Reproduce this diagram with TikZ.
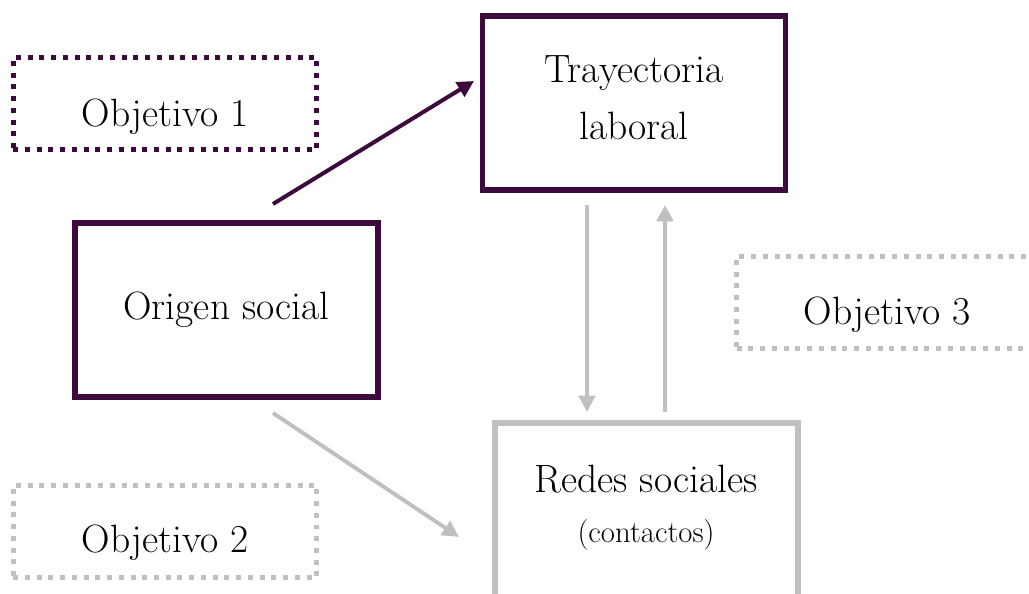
\documentclass[tikz,border=0pt]{standalone}
\usepackage{tikz}
\usetikzlibrary{arrows.meta}

\definecolor{ciruela}{RGB}{60,10,60}
\definecolor{gris}{RGB}{192,192,192}

\begin{document}
\begin{tikzpicture}[x=0.02cm,y=-0.02cm,
    caja/.style={draw,line width=0.11cm,minimum width=6.06cm,minimum height=3.48cm,inner sep=0pt},
    objetivo/.style={draw,line width=0.1cm,dash pattern=on 0.1cm off 0.135cm,minimum width=6.08cm,minimum height=1.86cm,inner sep=0pt},
    texto/.style={anchor=base,font=\fontsize{22.5}{27}\selectfont},
    flecha/.style={line width=0.08cm,-{Triangle[length=0.33cm,width=0.33cm]}}]
  \useasboundingbox (0,0) rectangle (1029,594);
  % cajas principales
  \node[caja,ciruela] (tray) at (634,103) {};
  \node[caja,ciruela] (orig) at (226.5,310) {};
  \node[caja,gris] (redes) at (646.5,510) {};
  \node[texto] (tray-t1) at (634,83) {Trayectoria};
  \node[texto] (tray-t2) at (634,140) {laboral};
  \node[texto] (orig-t) at (226.5,320) {Origen social};
  \node[texto] (redes-t1) at (646,493) {Redes sociales};
  \node[texto,font=\fontsize{17.5}{21}\selectfont] (redes-t2) at (646,543) {(contactos)};
  % objetivos
  \node[objetivo,ciruela] (obj1) at (165,103.5) {};
  \node[objetivo,gris] (obj2) at (165,531.5) {};
  \node[objetivo,gris] (obj3) at (888.5,302.5) {};
  \node[texto] (obj1-t) at (165,127) {Objetivo 1};
  \node[texto] (obj2-t) at (165,553) {Objetivo 2};
  \node[texto] (obj3-t) at (887,325) {Objetivo 3};
  % flechas
  \coordinate (a1) at (273,204);
  \coordinate (a2) at (474,81);
  \coordinate (b1) at (273,413);
  \coordinate (b2) at (459,537);
  \coordinate (c1) at (587,205);
  \coordinate (c2) at (587,412);
  \coordinate (d1) at (665,412);
  \coordinate (d2) at (665,205);
  \draw[flecha,ciruela] (a1) -- (a2);
  \draw[flecha,gris] (b1) -- (b2);
  \draw[flecha,gris] (c1) -- (c2);
  \draw[flecha,gris] (d1) -- (d2);
\end{tikzpicture}
\end{document}
